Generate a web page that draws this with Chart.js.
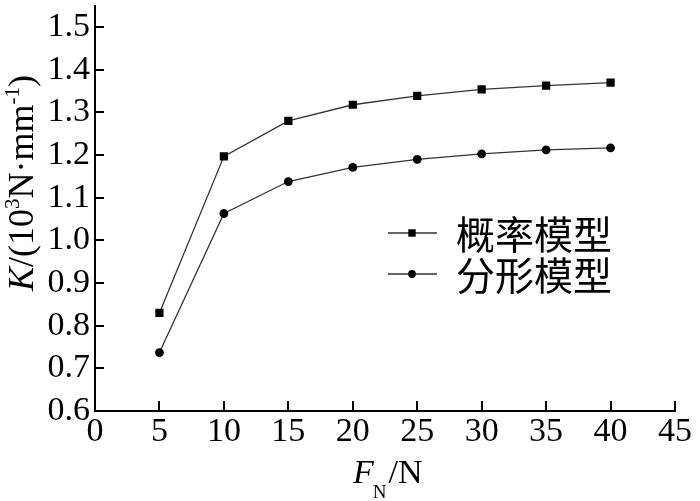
<!DOCTYPE html>
<html>
<head>
<meta charset="utf-8">
<script src="https://cdn.jsdelivr.net/npm/chart.js@4.4.1/dist/chart.umd.min.js"></script>
<style>
  html, body { margin: 0; padding: 0; background: #fff; }
  #wrap { width: 700px; height: 501px; position: relative; }
</style>
</head>
<body>
<div id="wrap"><canvas id="chart"></canvas></div>
<script>
// values
const forces = [5, 10, 15, 20, 25, 30, 35, 40];
const probModel = [0.83, 1.197, 1.28, 1.318, 1.339, 1.354, 1.363, 1.37];
const fractalModel = [0.737, 1.063, 1.138, 1.171, 1.19, 1.203, 1.212, 1.217];
const seriesNames = ["概率模型", "分形模型"];
const yTickValues = [0.6, 0.7, 0.8, 0.9, 1.0, 1.1, 1.2, 1.3, 1.4, 1.5];

const SERIF = "'Liberation Serif', 'Times New Roman', serif";
const CJK = "'Noto Sans CJK SC', sans-serif";

const toPoints = (ys) => ys.map((y, i) => ({ x: forces[i], y }));

// inward tick marks, axis titles with sub/superscripts, legend inside the plot
const decorations = {
  id: "decorations",
  afterDraw(chart) {
    const { ctx, scales } = chart;
    const xs = scales.x;
    const ys = scales.y;
    ctx.save();
    ctx.strokeStyle = "#000";
    ctx.lineWidth = 2;
    ctx.beginPath();
    xs.ticks.forEach((t) => {
      const px = Math.round(xs.getPixelForValue(t.value));
      ctx.moveTo(px, xs.top);
      ctx.lineTo(px, xs.top - 10);
    });
    ys.ticks.forEach((t) => {
      const py = Math.round(ys.getPixelForValue(t.value));
      ctx.moveTo(ys.right, py);
      ctx.lineTo(ys.right + 9, py);
    });
    ctx.stroke();

    ctx.fillStyle = "#000";
    ctx.textBaseline = "alphabetic";
    ctx.textAlign = "left";

    // x title: F_N/N
    let x = 353;
    const by = 483;
    ctx.font = "italic 34px " + SERIF;
    ctx.fillText("F", x, by);
    x += ctx.measureText("F").width - 1;
    ctx.font = "19px " + SERIF;
    ctx.fillText("N", x, by + 15);
    x += ctx.measureText("N").width + 2;
    ctx.font = "34px " + SERIF;
    ctx.fillText("/N", x, by);

    // y title: K/(10^3 N·mm^-1), rotated
    const parts = [
      { t: "K", f: "italic 36px " + SERIF, dy: 0 },
      { t: "/(10", f: "36px " + SERIF, dy: 0 },
      { t: "3", f: "21px " + SERIF, dy: -14 },
      { t: "N\u00b7mm", f: "36px " + SERIF, dy: 0 },
      { t: "-1", f: "21px " + SERIF, dy: -14 },
      { t: ")", f: "36px " + SERIF, dy: 0 },
    ];
    let total = 0;
    parts.forEach((p) => {
      ctx.font = p.f;
      p.w = ctx.measureText(p.t).width;
      total += p.w;
    });
    ctx.translate(33, 183 + total / 2);
    ctx.rotate(-Math.PI / 2);
    let tx = 0;
    parts.forEach((p) => {
      ctx.font = p.f;
      ctx.fillText(p.t, tx, p.dy);
      tx += p.w;
    });
    ctx.setTransform(1, 0, 0, 1, 0, 0);

    // legend
    const rows = [233, 274];
    chart.data.datasets.forEach((ds, i) => {
      const ly = rows[i];
      ctx.strokeStyle = "#333";
      ctx.lineWidth = 1.3;
      ctx.beginPath();
      ctx.moveTo(388, ly);
      ctx.lineTo(437, ly);
      ctx.stroke();
      ctx.fillStyle = "#000";
      ctx.beginPath();
      if (ds.pointStyle === "rect") {
        ctx.rect(412 - 3.7, ly - 3.7, 7.4, 7.4);
      } else {
        ctx.arc(412, ly, 3.9, 0, Math.PI * 2);
      }
      ctx.fill();
      ctx.font = "39px " + CJK;
      ctx.textBaseline = "middle";
      ctx.fillText(ds.label, 456, ly + 1);
      ctx.textBaseline = "alphabetic";
    });
    ctx.restore();
  },
};

const zeroPadding = (scale) => {
  scale.paddingTop = 0;
  scale.paddingBottom = 0;
  scale.paddingLeft = 0;
  scale.paddingRight = 0;
};

new Chart(document.getElementById("chart"), {
  type: "line",
  data: {
    datasets: [
      {
        label: seriesNames[0],
        data: toPoints(probModel),
        borderColor: "#333",
        borderWidth: 1.3,
        pointStyle: "rect",
        pointRadius: 5.8,
        pointBackgroundColor: "#000",
        pointBorderWidth: 0,
        tension: 0,
      },
      {
        label: seriesNames[1],
        data: toPoints(fractalModel),
        borderColor: "#333",
        borderWidth: 1.3,
        pointStyle: "circle",
        pointRadius: 4.4,
        pointBackgroundColor: "#000",
        pointBorderWidth: 0,
        tension: 0,
      },
    ],
  },
  options: {
    responsive: true,
    maintainAspectRatio: false,
    animation: false,
    layout: { padding: { left: 0, right: 25, top: 0, bottom: 0 } },
    plugins: { legend: { display: false }, tooltip: { enabled: false } },
    scales: {
      x: {
        type: "linear",
        min: 0,
        max: 45,
        ticks: {
          stepSize: 5,
          padding: 1,
          color: "#000",
          font: { family: SERIF, size: 34 },
          maxRotation: 0,
        },
        grid: { display: true, drawOnChartArea: false, drawTicks: false },
        border: { display: true, color: "#000", width: 2 },
        afterFit(scale) {
          scale.height = 90;
          zeroPadding(scale);
        },
      },
      y: {
        min: 0.6,
        max: 1.55,
        ticks: {
          padding: 5,
          color: "#000",
          font: { family: SERIF, size: 34 },
          callback: (v) => Number(v).toFixed(1),
        },
        grid: { display: true, drawOnChartArea: false, drawTicks: false },
        border: { display: true, color: "#000", width: 2 },
        afterBuildTicks(scale) {
          scale.ticks = yTickValues.map((v) => ({ value: v }));
        },
        afterFit(scale) {
          scale.width = 95;
          zeroPadding(scale);
        },
      },
    },
  },
  plugins: [decorations],
});
</script>
</body>
</html>
